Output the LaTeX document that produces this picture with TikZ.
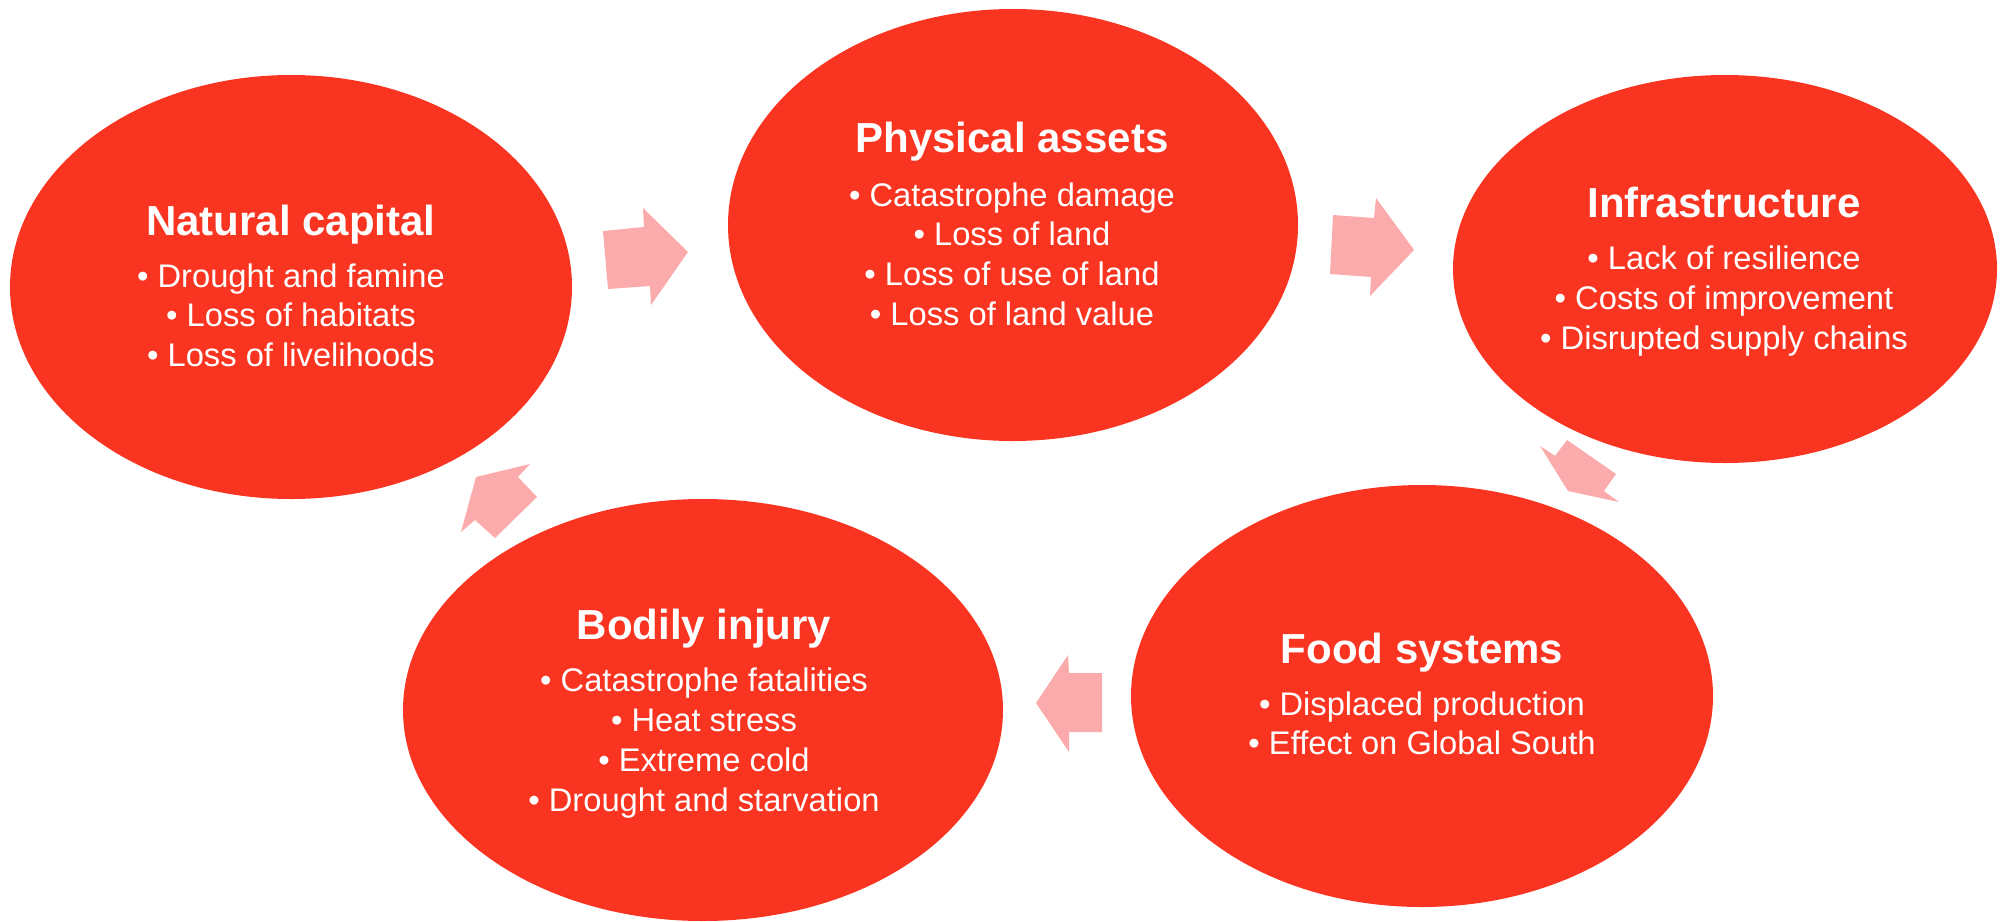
\documentclass[tikz,border=0pt]{standalone}
\usepackage{fontspec}
\setmainfont{Liberation Sans}
\usetikzlibrary{shapes.geometric}
\definecolor{blobred}{HTML}{F93420}
\definecolor{flowpink}{HTML}{FBABAB}
\begin{document}
\begin{tikzpicture}[x=1pt,y=-1pt,
  blob/.style={ellipse, fill=blobred, draw=none, inner sep=0pt},
  heading/.style={anchor=base, text=white, inner sep=0pt,
    font=\fontsize{42}{50}\selectfont\bfseries},
  item/.style={anchor=base, text=white, inner sep=0pt,
    font=\fontsize{32.7}{40}\selectfont},
  flow/.style={fill=flowpink, draw=none}]
\useasboundingbox (0,0) rectangle (2001,921);

% the five ellipses
\node[blob, minimum width=562pt, minimum height=424pt] (nat) at (291,287) {};
\node[blob, minimum width=570pt, minimum height=432pt] (phy) at (1013,225) {};
\node[blob, minimum width=544pt, minimum height=388pt] (inf) at (1725,269) {};
\node[blob, minimum width=582pt, minimum height=422pt] (food) at (1422,696) {};
\node[blob, minimum width=600pt, minimum height=422pt] (body) at (703,710) {};

% headings
\node[heading] (nat-t) at (291,235) {Natural capital};
\node[heading] (phy-t) at (1012,152) {Physical assets};
\node[heading] (inf-t) at (1724,217) {Infrastructure};
\node[heading] (food-t) at (1422,663) {Food systems};
\node[heading] (body-t) at (704,639) {Bodily injury};

% bullet lines
\foreach \t [count=\i] in {Drought and famine, Loss of habitats, Loss of livelihoods}
  \node[item] (nat-\i) at (291,{287+39.5*(\i-1)}) {• \t};
\foreach \t [count=\i] in {Catastrophe damage, Loss of land, Loss of use of land, Loss of land value}
  \node[item] (phy-\i) at (1012,{206+39.7*(\i-1)}) {• \t};
\foreach \t [count=\i] in {Lack of resilience, Costs of improvement, Disrupted supply chains}
  \node[item] (inf-\i) at (1724,{269+40*(\i-1)}) {• \t};
\foreach \t [count=\i] in {Displaced production, Effect on Global South}
  \node[item] (food-\i) at (1422,{715+39.5*(\i-1)}) {• \t};
\foreach \t [count=\i] in {Catastrophe fatalities, Heat stress, Extreme cold, Drought and starvation}
  \node[item] (body-\i) at (704,{691+40*(\i-1)}) {• \t};

% block arrows between the ellipses
\fill[flow] (603,231) -- (644,227) -- (643,208) -- (688,252) -- (651,305) -- (650,286) -- (608,289) -- cycle;
\fill[flow] (1333,215) -- (1374,218) -- (1376,198) -- (1414,250) -- (1370,296) -- (1371,277) -- (1330,274) -- cycle;
\fill[flow] (1540,446) -- (1555,456) -- (1567,440) -- (1616,474) -- (1604,491) -- (1619,502) -- (1568,491) -- cycle;
\fill[flow] (1036,703) -- (1068,655) -- (1069,673) -- (1102,673) -- (1102,732) -- (1069,732) -- (1069,752) -- cycle;
\fill[flow] (476,477) -- (530,464) -- (518,477) -- (537,497) -- (495,538) -- (475,520) -- (461,532) -- cycle;
\end{tikzpicture}
\end{document}
